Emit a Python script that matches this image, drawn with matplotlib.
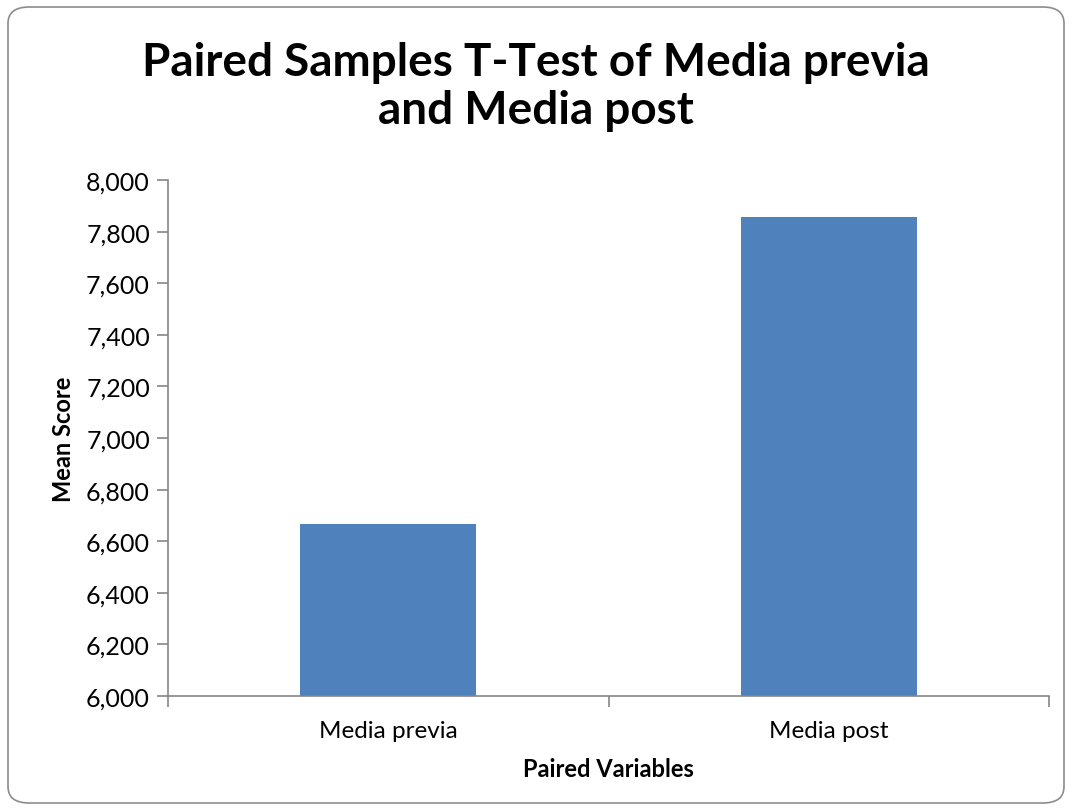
import matplotlib.pyplot as plt
import numpy as np
from matplotlib.patches import FancyBboxPatch
from matplotlib.ticker import FuncFormatter

categories = ['Media previa', 'Media post']
means = [6667, 7857]
y_ticks = list(range(6000, 8001, 200))

plt.rcParams['font.family'] = ['Lato', 'DejaVu Sans']

fig = plt.figure(figsize=(10.72, 8.12), dpi=100)
ax = fig.add_axes([168 / 1072, 1 - 697 / 812, (1049 - 168) / 1072, (697 - 181) / 812])

x = np.arange(len(categories))
ax.bar(x, means, width=0.4, color='#4F81BD', zorder=2)

ax.set_xlim(-0.5, 1.5)
ax.set_ylim(6000, 8000)
ax.set_yticks(y_ticks)
ax.yaxis.set_major_formatter(FuncFormatter(lambda v, p: f'{int(v):,}'))
ax.set_xticks(x)
ax.set_xticklabels(categories)
ax.set_xticks([-0.5, 0.5, 1.5], minor=True)

for s in ['top', 'right']:
    ax.spines[s].set_visible(False)
for s in ['left', 'bottom']:
    ax.spines[s].set_color('#868686')
    ax.spines[s].set_linewidth(1.2)

ax.tick_params(axis='y', length=8, color='#868686', width=1.2, labelsize=18, pad=5)
ax.tick_params(axis='x', which='major', length=0, labelsize=17.5, pad=17)
ax.tick_params(axis='x', which='minor', length=8, color='#868686', width=1.2)

ax.set_ylabel('Mean Score', fontsize=17, fontweight='bold', labelpad=8)
ax.set_xlabel('Paired Variables', fontsize=17, fontweight='bold', labelpad=12)

fig.text(0.5, 1 - 87 / 812, 'Paired Samples T-Test of Media previa\nand Media post',
         ha='center', va='center', fontsize=33, fontweight='bold', linespacing=1.15)

border = FancyBboxPatch((8 / 1072, 8 / 812), 1056 / 1072, 796 / 812,
                        boxstyle='round,pad=0,rounding_size=0.02',
                        transform=fig.transFigure, facecolor='none',
                        edgecolor='#8c8c8c', linewidth=1.2)
fig.patches.append(border)

fig.savefig('out.png', dpi=100)
